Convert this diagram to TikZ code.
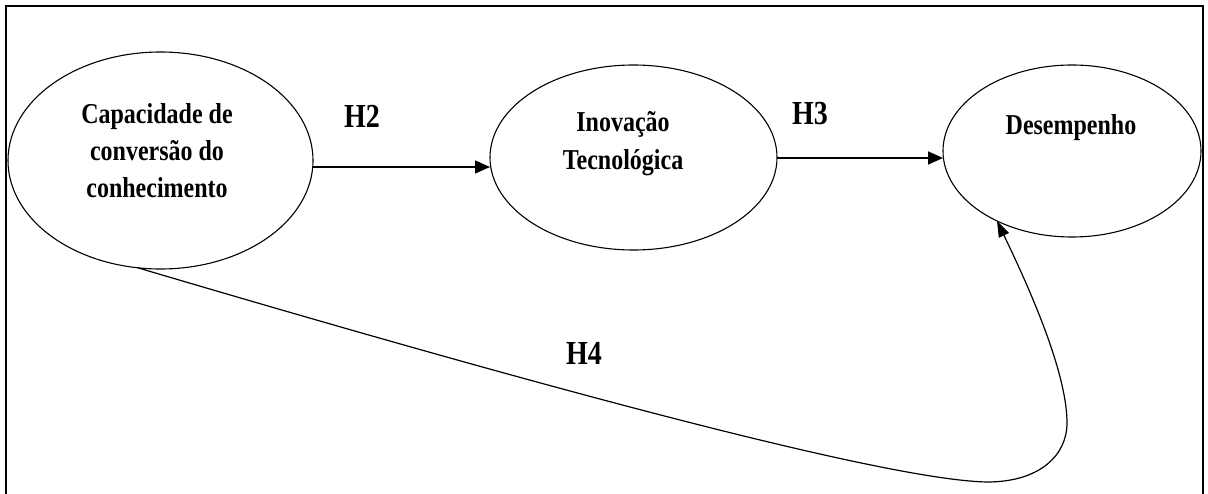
\documentclass[tikz,border=0pt]{standalone}
\usepackage{fontspec}
\usepackage{graphicx}
\setmainfont{Liberation Serif}
\usetikzlibrary{arrows.meta,calc,shapes.geometric}
\begin{document}
\begin{tikzpicture}[x=1pt,y=-1pt,
  construct/.style={draw, line width=1.1pt, ellipse, inner sep=0pt, outer sep=0pt},
  ntext/.style={inner sep=0pt, font=\bfseries\fontsize{24}{31}\selectfont},
  hlabel/.style={inner sep=0pt, font=\bfseries\fontsize{28}{34}\selectfont},
  arr/.style={line width=1.6pt, -{Triangle[length=15pt,width=13pt]}},
  curvearr/.style={line width=1.2pt, -{Triangle[length=16pt,width=11pt]}},
  frame/.style={line width=2.5pt}]
\useasboundingbox (0,0) rectangle (1208,494);
\draw[frame] (6,494) -- (6,6) -- (1203,6) -- (1203,494);

\node[construct, minimum width=305pt, minimum height=217pt] (L) at (160.5,160.5) {};
\node[construct, minimum width=287pt, minimum height=185pt] (M) at (633.5,157.5) {};
\node[construct, minimum width=258pt, minimum height=172pt] (R) at (1072,151) {};

\node[ntext] (Lt) at (157,152.8) {\scalebox{1}[1.2]{\begin{tabular}{@{}c@{}}Capacidade de\\conversão do\\conhecimento\end{tabular}}};
\node[ntext] (Mt) at (623,143) {\scalebox{1}[1.2]{\begin{tabular}{@{}c@{}}Inovação\\Tecnológica\end{tabular}}};
\node[ntext] (Rt) at (1071,126.6) {\scalebox{1}[1.2]{\begin{tabular}{@{}c@{}}Desempenho\end{tabular}}};

\node[hlabel] (h2) at (362,116) {\scalebox{1}[1.2]{H2}};
\node[hlabel] (h3) at (810,114) {\scalebox{1}[1.2]{H3}};
\node[hlabel] (h4) at (584,353) {\scalebox{1}[1.2]{H4}};

\coordinate (h2s) at ($(L.east)+(0,6.5)$);
\draw[arr] (h2s) -- (h2s -| M.west);
\coordinate (h3s) at ($(M.east)+(0,0.5)$);
\draw[arr] (h3s) -- (h3s -| R.west);

\draw[curvearr] (L.258) .. controls (500,375) and (880,480) .. (987,482)
  .. controls (1040,482) and (1067,455) .. (1067,423)
  .. controls (1067,380) and (1040,310) .. (R.223);
\end{tikzpicture}
\end{document}
